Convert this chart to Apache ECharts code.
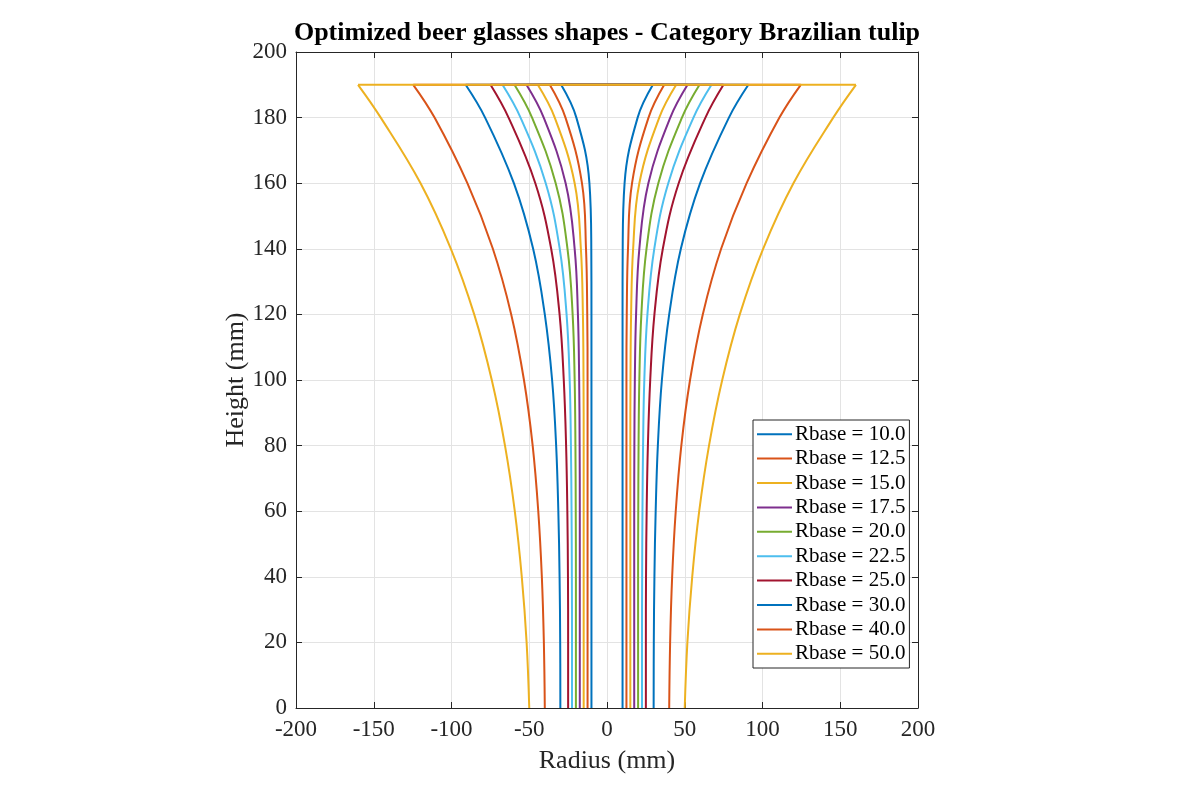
<!DOCTYPE html>
<html>
<head>
<meta charset="utf-8">
<script src="https://cdn.jsdelivr.net/npm/echarts@6/dist/echarts.min.js"></script>
<style>
html,body{margin:0;padding:0;background:#fff;}
#main{width:1181px;height:787px;}
</style>
</head>
<body>
<div id="main"></div>
<script>
// Heights (mm) at which each profile radius was read
const heights = [0, 20, 40, 60, 80, 100, 120, 140, 160, 180, 190];
// Series names
const rbaseLabels = ['Rbase = 10.0','Rbase = 12.5','Rbase = 15.0','Rbase = 17.5','Rbase = 20.0','Rbase = 22.5','Rbase = 25.0','Rbase = 30.0','Rbase = 40.0','Rbase = 50.0'];
// Radius (mm) of each glass profile at the heights above
const r10   = [10, 10, 10, 10, 10, 10, 10, 10.1, 11.3, 19.7, 29.5];
const r12_5 = [12.5, 12.5, 12.5, 12.5, 12.5, 12.5, 12.7, 13.5, 16.1, 26.7, 36.8];
const r15   = [15, 15, 15, 15, 15, 15.1, 15.5, 16.8, 20.8, 33.6, 44.5];
const r17_5 = [17.5, 17.5, 17.5, 17.5, 17.6, 17.9, 18.7, 20.8, 26.6, 40.7, 51.8];
const r20   = [20, 20, 20, 20.1, 20.3, 20.8, 22.1, 25.4, 33.0, 48.2, 59.5];
const r22_5 = [22.5, 22.5, 22.6, 22.8, 23.2, 24.0, 26.0, 30.4, 39.4, 55.6, 67.2];
const r25   = [25, 25, 25.1, 25.5, 26.3, 27.8, 30.5, 35.9, 46.1, 63.3, 74.9];
const r30   = [30, 30.1, 30.5, 31.3, 32.7, 35.3, 40.0, 47.5, 59.9, 78.4, 90.9];
const r40   = [40, 40.6, 41.9, 44.2, 47.8, 53.4, 61.6, 73.4, 89.8, 110.9, 124.6];
const r50   = [50, 51.7, 54.8, 59.3, 65.6, 74.1, 85.4, 100.4, 119.9, 145.5, 160.1];
const profiles = [r10, r12_5, r15, r17_5, r20, r22_5, r25, r30, r40, r50];
// Axis ticks
const xTicks = [-200, -150, -100, -50, 0, 50, 100, 150, 200];
const yTicks = [0, 20, 40, 60, 80, 100, 120, 140, 160, 180, 200];

const colors = ['#0072BD','#D95319','#EDB120','#7E2F8E','#77AC30','#4DBEEE','#A2142F','#0072BD','#D95319','#EDB120'];
const FONT = '"Liberation Serif", "Times New Roman", serif';
const AX = '#262626';

const series = [];
profiles.forEach((prof, i) => {
  const left = heights.map((h, k) => [-prof[k], h]);
  const right = heights.map((h, k) => [prof[k], h]);
  const topY = heights[heights.length - 1];
  const topR = prof[prof.length - 1];
  const base = {
    name: rbaseLabels[i], type: 'line', symbol: 'none', smooth: 0.4,
    color: colors[i], lineStyle: {width: 2, color: colors[i]}, z: 2 + i, animation: false
  };
  series.push(Object.assign({}, base, {data: left}));
  series.push(Object.assign({}, base, {data: right}));
  series.push(Object.assign({}, base, {smooth: false, data: [[-topR, topY], [topR, topY]]}));
});

const chart = echarts.init(document.getElementById('main'), null, {renderer: 'canvas'});
chart.setOption({
  backgroundColor: '#fff',
  animation: false,
  title: {
    text: 'Optimized beer glasses shapes - Category Brazilian tulip',
    left: 602, top: 15, textAlign: 'center',
    textStyle: {fontFamily: FONT, fontSize: 26, fontWeight: 'bold', color: '#000'}
  },
  legend: {
    orient: 'vertical', left: 753, top: 420,
    data: rbaseLabels,
    icon: 'rect', itemWidth: 35, itemHeight: 2, itemGap: 0,
    padding: [2, 4, 2, 4],
    backgroundColor: '#fff', borderColor: '#262626', borderWidth: 1,
    textStyle: {fontFamily: FONT, fontSize: 21, lineHeight: 24.4, color: '#000', padding: [0, 0, 0, -2]}
  },
  grid: {left: 296, right: 263, top: 52, bottom: 79, containLabel: false},
  xAxis: [{
    type: 'value', min: xTicks[0], max: xTicks[xTicks.length - 1], interval: 50,
    name: 'Radius (mm)', nameLocation: 'middle', nameGap: 40, nameMoveOverlap: false,
    nameTextStyle: {fontFamily: FONT, fontSize: 26, color: AX},
    axisLine: {show: true, onZero: false, lineStyle: {color: AX, width: 1}},
    axisTick: {show: true, inside: true, length: 6, lineStyle: {color: AX}},
    axisLabel: {fontFamily: FONT, fontSize: 23, color: AX, margin: 10},
    splitLine: {show: true, lineStyle: {color: '#e3e3e3', width: 1}}
  }, {
    type: 'value', position: 'top', min: xTicks[0], max: xTicks[xTicks.length - 1], interval: 50,
    axisLine: {show: true, onZero: false, lineStyle: {color: AX, width: 1}},
    axisTick: {show: true, inside: true, length: 6, lineStyle: {color: AX}},
    axisLabel: {show: false}, splitLine: {show: false}
  }],
  yAxis: [{
    type: 'value', min: yTicks[0], max: yTicks[yTicks.length - 1], interval: 20,
    name: 'Height (mm)', nameLocation: 'middle', nameGap: 47, nameMoveOverlap: false,
    nameTextStyle: {fontFamily: FONT, fontSize: 26, color: AX},
    axisLine: {show: true, onZero: false, lineStyle: {color: AX, width: 1}},
    axisTick: {show: true, inside: true, length: 6, lineStyle: {color: AX}},
    axisLabel: {fontFamily: FONT, fontSize: 23, color: AX, margin: 9},
    splitLine: {show: true, lineStyle: {color: '#e3e3e3', width: 1}}
  }, {
    type: 'value', position: 'right', min: yTicks[0], max: yTicks[yTicks.length - 1], interval: 20,
    axisLine: {show: true, onZero: false, lineStyle: {color: AX, width: 1}},
    axisTick: {show: true, inside: true, length: 6, lineStyle: {color: AX}},
    axisLabel: {show: false}, splitLine: {show: false}
  }],
  series: series
});
</script>
</body>
</html>
